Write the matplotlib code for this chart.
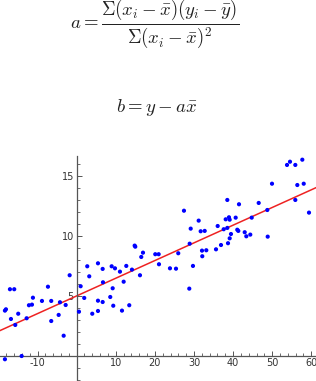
import matplotlib
matplotlib.use("Agg")
import matplotlib.pyplot as plt
from matplotlib.ticker import MultipleLocator, FixedLocator
import numpy as np

plt.rcParams['mathtext.fontset'] = 'cm'
plt.rcParams['axes.unicode_minus'] = False

x = [-18.34, -18.08, -17.06, -15.96, -16.80, -15.70, -14.94, -12.79, -12.20, -11.43,
     -11.18, -8.87, -7.34, -6.50, -6.50, -4.60, -4.27, -3.32, -2.81, -1.79,
     0.59, 1.02, 1.94, 2.71, 3.22, 3.99, 5.45, 5.45, 5.45, 6.65,
     6.65, 6.73, 8.59, 8.95, 9.21, 9.36, 9.80, 11.07, 11.59, 12.02,
     12.69, 13.45, 14.14, 14.83, 14.99, 16.19, 16.52, 16.96, 20.10, 20.97,
     21.05, -18.34, -14.07,
     23.86, 25.40, 25.98, 27.44, 28.80, 28.90, 29.16, 29.74, 31.20, 31.71,
     32.05, 32.12, 32.74, 33.15, 35.63, 36.06, 36.91, 37.60, 38.11, 38.52,
     38.52, 38.70, 38.95, 39.13, 39.13, 39.46, 40.66, 41.07, 41.33, 41.51,
     42.97, 43.38, 44.40, 44.76, 46.55, 48.75, 48.85, 49.95, 53.79, 54.55,
     55.91, 55.91, 56.42, 57.70, 58.06, 59.41]
y = [3.77, 3.88, 5.56, 5.56, 3.07, 2.57, 3.51, 3.13, 4.22, 4.27,
     4.85, 4.58, 5.77, 4.58, 2.90, 3.41, 4.47, 1.67, 4.24, 6.73,
     3.68, 5.81, 4.83, 7.48, 6.64, 3.51, 7.73, 4.60, 3.74, 7.26,
     4.49, 6.14, 4.91, 7.48, 5.64, 4.18, 7.31, 7.03, 3.77, 6.19,
     7.51, 4.22, 7.20, 9.21, 9.12, 6.73, 8.26, 8.62, 8.49, 8.49,
     7.65, -0.30, -0.03,
     7.31, 7.28, 8.57, 12.13, 5.61, 9.37, 10.63, 7.51, 11.30, 10.41,
     8.79, 8.32, 10.44, 8.82, 8.90, 10.85, 9.26, 10.58, 11.41, 13.03,
     10.69, 9.41, 11.58, 11.38, 9.82, 10.18, 11.55, 10.54, 10.44, 12.67,
     10.33, 9.99, 10.13, 11.55, 12.78, 12.19, 9.96, 14.39, 15.96, 16.23,
     15.96, 13.03, 14.28, 16.40, 14.39, 11.97]

line_intercept = 5.0
line_slope = 0.148

x_ticks = [-20, -10, 10, 20, 30, 40, 50, 60]
y_ticks = [5, 10, 15]

fig = plt.figure(figsize=(3.16, 3.81), dpi=100)

fig.text(0.49, 0.937,
         r'$a = \dfrac{\Sigma(x_i - \bar{x})(y_i - \bar{y})}{\Sigma(x_i - \bar{x})^2}$',
         ha='center', va='center', fontsize=13.5, color='#222222')
fig.text(0.497, 0.719, r'$b = y - a\bar{x}$',
         ha='center', va='center', fontsize=13.5, color='#222222')

ax = fig.add_axes([0, 0, 1, 0.5906])
ax.set_xlim(-19.6, 61.2)
ax.set_ylim(-2.12, 16.71)

lx = np.array([-25, 65])
ax.plot(lx, line_intercept + line_slope * lx, color='#ee2222', lw=1.1, zorder=2)
ax.scatter(x, y, s=9, color='#0000ff', edgecolors='none', zorder=3)

for s in ['top', 'right']:
    ax.spines[s].set_visible(False)
ax.spines['left'].set_position(('data', 0))
ax.spines['bottom'].set_position(('data', 0))
ax.spines['left'].set_bounds(-2.12, 16.7)
for s in ['left', 'bottom']:
    ax.spines[s].set_color('#555555')
    ax.spines[s].set_linewidth(0.9)

ax.xaxis.set_major_locator(FixedLocator(x_ticks))
ax.yaxis.set_major_locator(FixedLocator(y_ticks))
ax.xaxis.set_minor_locator(MultipleLocator(2))
ax.yaxis.set_minor_locator(MultipleLocator(1))
ax.set_xticklabels([str(t) for t in x_ticks])
ax.set_yticklabels([str(t) for t in y_ticks])
ax.tick_params(which='major', direction='in', length=3.5, width=0.7,
               color='#555555', labelsize=7, labelcolor='#333333', pad=2)
ax.tick_params(which='minor', direction='in', length=2, width=0.6, color='#555555')
ax.patch.set_alpha(0)

fig.savefig('out.png', dpi=100)
